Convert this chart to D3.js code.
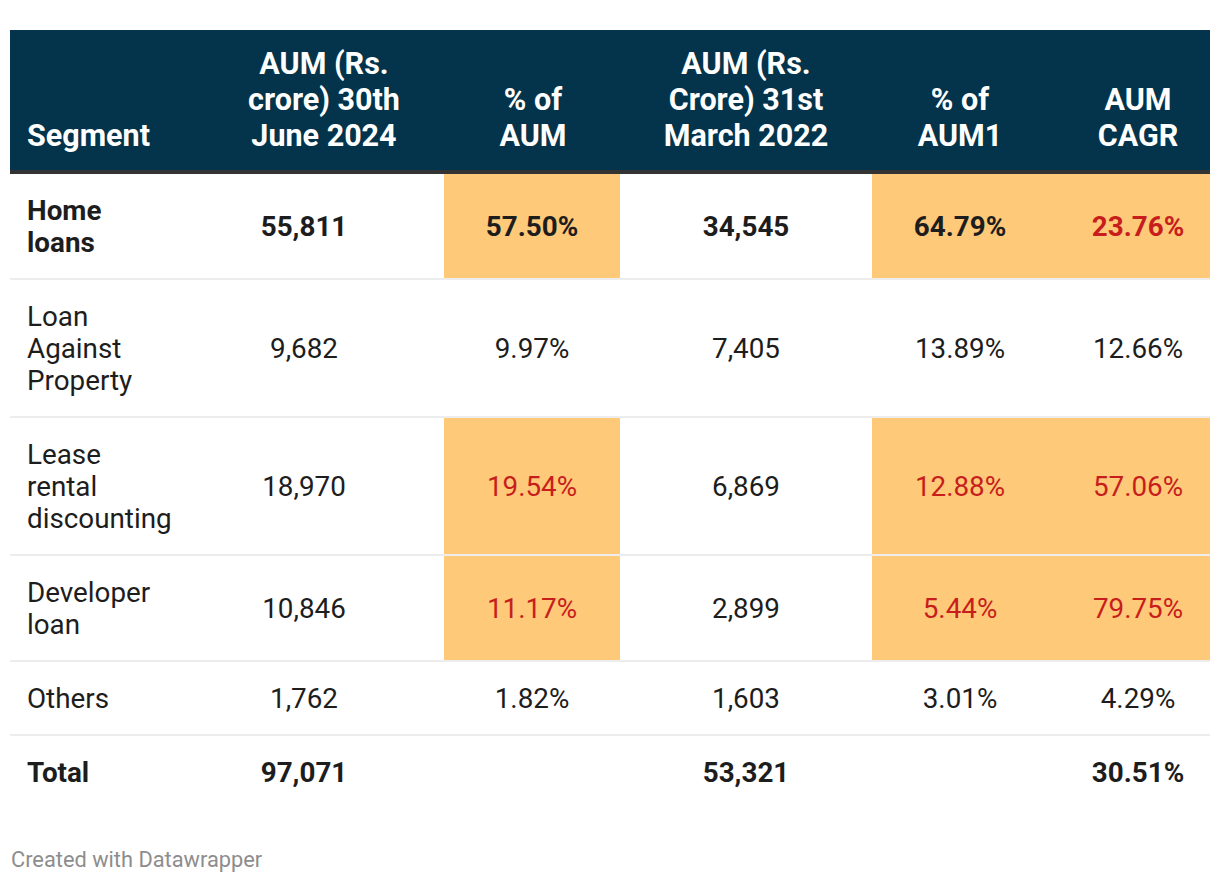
<!DOCTYPE html>
<html><head><meta charset="utf-8">
<script src="https://cdn.jsdelivr.net/npm/d3@7"></script>
<style>body{margin:0;background:#fff;}svg{display:block;font-family:Roboto,sans-serif;}</style>
</head><body>
<svg id="c" width="1220" height="884"></svg>
<script>
const headers = ["Segment", "AUM (Rs.\ncrore) 30th\nJune 2024", "% of\nAUM", "AUM (Rs.\nCrore) 31st\nMarch 2022", "% of\nAUM1", "AUM\nCAGR"];
const segments = ["Home\nloans", "Loan\nAgainst\nProperty", "Lease\nrental\ndiscounting", "Developer\nloan", "Others", "Total"];
const aum2024 = ["55,811", "9,682", "18,970", "10,846", "1,762", "97,071"];
const pct2024 = ["57.50%", "9.97%", "19.54%", "11.17%", "1.82%", ""];
const aum2022 = ["34,545", "7,405", "6,869", "2,899", "1,603", "53,321"];
const pct2022 = ["64.79%", "13.89%", "12.88%", "5.44%", "3.01%", ""];
const cagr = ["23.76%", "12.66%", "57.06%", "79.75%", "4.29%", "30.51%"];

// highlight / emphasis rules (row indices)
const highlightRows = [0, 2, 3];
const redCells = {2: [2, 3], 4: [2, 3], 5: [0, 2, 3]};
const boldRows = [0, 5];

const cols = [segments, aum2024, pct2024, aum2022, pct2022, cagr];
const svg = d3.select("#c");
const L = 10, R = 1210;
const colEdges = [10, 200, 444, 620, 872, 1048, 1210];
const bodyCx = [27, 304, 532, 746, 960, 1138];
const headCx = [27, 324, 533, 746, 960, 1138];

const headTop = 30, headBottom = 170;
svg.append("rect").attr("x", L).attr("y", headTop).attr("width", R - L).attr("height", headBottom - headTop).attr("fill", "#03344b");
svg.append("rect").attr("x", L).attr("y", headBottom).attr("width", R - L).attr("height", 4).attr("fill", "#333");

const hFs = 30.5, hLh = 36;
headers.forEach((h, i) => {
  const lines = h.split("\n");
  const t = svg.append("text").attr("fill", "#fff").attr("font-weight", 700).attr("font-size", hFs)
    .attr("text-anchor", i === 0 ? "start" : "middle");
  lines.forEach((ln, k) => {
    t.append("tspan").attr("x", headCx[i]).attr("y", 146 - (lines.length - 1 - k) * hLh).text(ln);
  });
});

const bFs = 27.8, bLh = 32;
let y = 174;
const rowGeom = segments.map((s) => {
  const n = s.split("\n").length;
  const h = n * bLh + 40;
  const g = {y0: y, h: h};
  y += h + 2;
  return g;
});

highlightRows.forEach(r => {
  const g = rowGeom[r];
  svg.append("rect").attr("x", colEdges[2]).attr("y", g.y0).attr("width", colEdges[3] - colEdges[2]).attr("height", g.h).attr("fill", "#fec978");
  svg.append("rect").attr("x", colEdges[4]).attr("y", g.y0).attr("width", colEdges[6] - colEdges[4]).attr("height", g.h).attr("fill", "#fec978");
});

rowGeom.forEach((g, r) => {
  if (r < rowGeom.length - 1) {
    svg.append("rect").attr("x", L).attr("y", g.y0 + g.h).attr("width", R - L).attr("height", 2).attr("fill", "#ededed");
  }
  const cy = g.y0 + g.h / 2;
  cols.forEach((col, c) => {
    const txt = col[r];
    if (!txt) return;
    const lines = txt.split("\n");
    const isRed = (redCells[c] || []).includes(r);
    const t = svg.append("text")
      .attr("font-size", bFs)
      .attr("font-weight", boldRows.includes(r) ? 700 : 400)
      .attr("fill", isRed ? "#c71e1d" : "#1d1d1d")
      .attr("text-anchor", c === 0 ? "start" : "middle");
    lines.forEach((ln, k) => {
      t.append("tspan").attr("x", bodyCx[c])
        .attr("y", cy + 9.5 + (k - (lines.length - 1) / 2) * bLh).text(ln);
    });
  });
});

svg.append("text").attr("x", 11).attr("y", 867).attr("font-size", 21.8).attr("fill", "#8d8d8d").text("Created with Datawrapper");
</script>
</body></html>
